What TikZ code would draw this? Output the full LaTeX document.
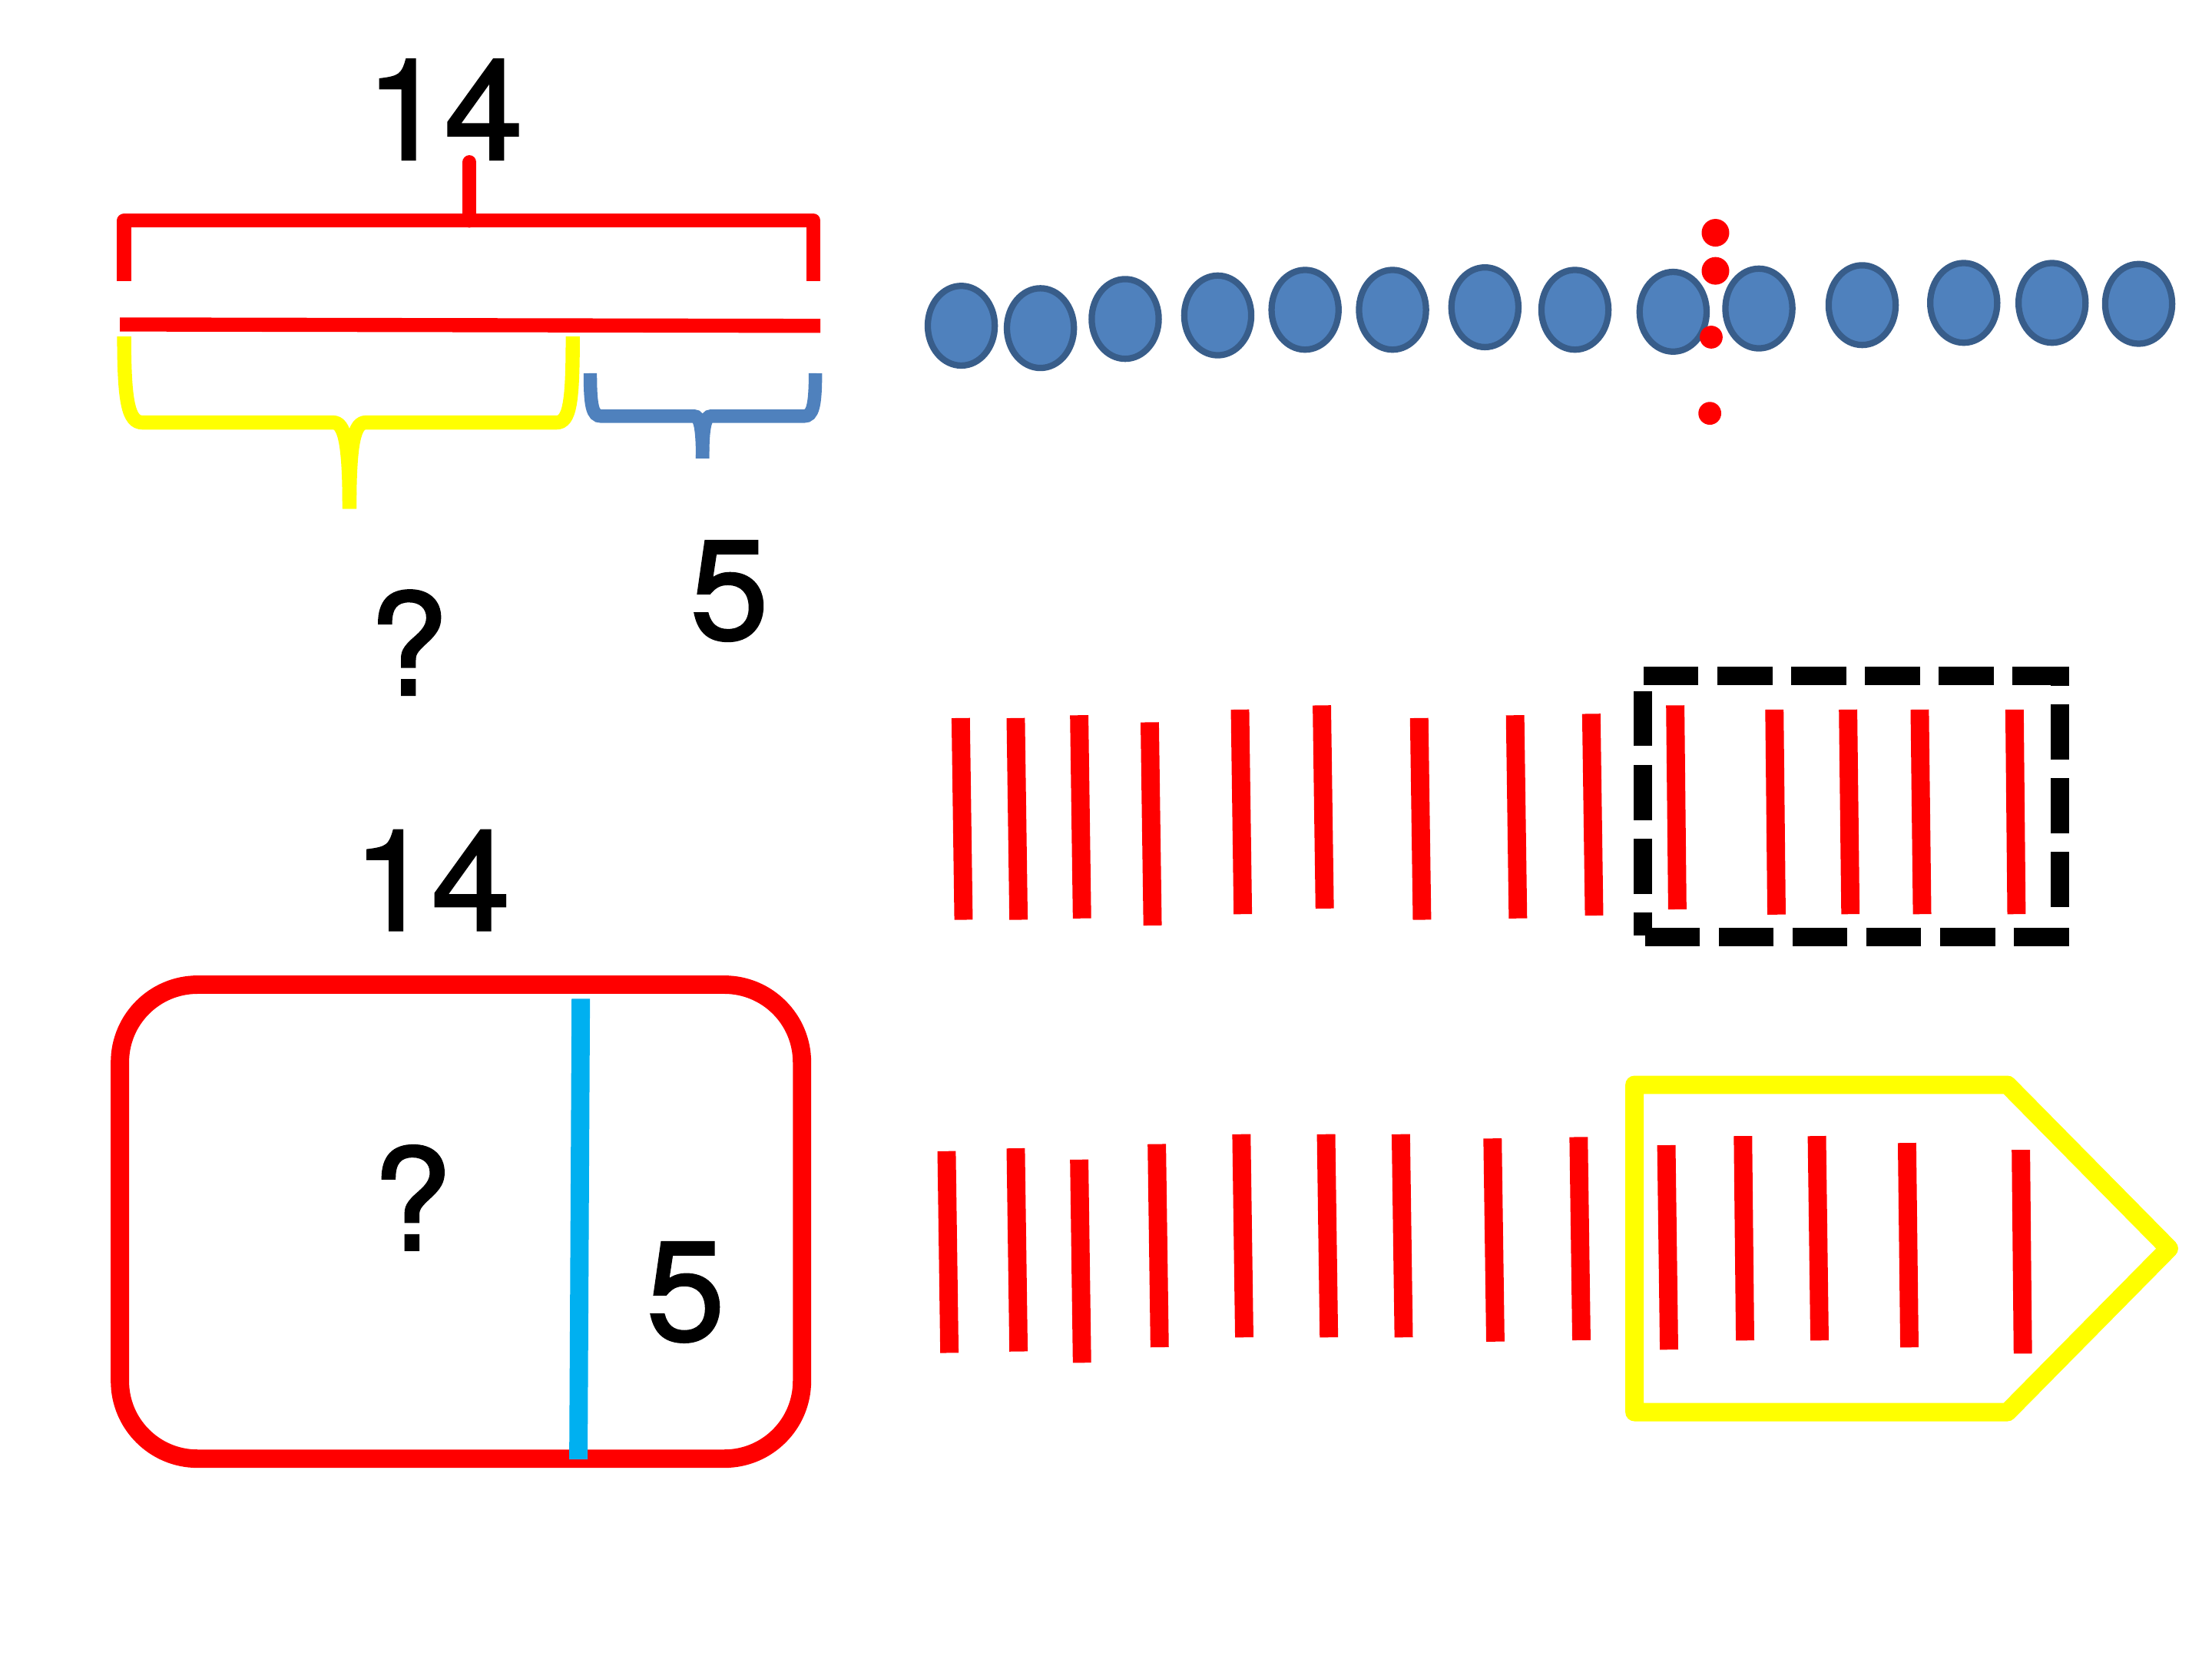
\documentclass[tikz,border=0pt]{standalone}
\usepackage{fontspec}
\setmainfont{TeX Gyre Heros}
\newfontfamily\numfont[FakeBold=1.6]{TeX Gyre Heros}
\usepackage{tikz}
\usetikzlibrary{positioning}
\definecolor{barred}{HTML}{FF0000}
\definecolor{braceyellow}{HTML}{FFFF00}
\definecolor{braceblue}{HTML}{4F81BD}
\definecolor{beadblue}{HTML}{4F81BD}
\definecolor{beadedge}{HTML}{385D8A}
\definecolor{splitcyan}{HTML}{00B0F0}

\begin{document}
\begin{tikzpicture}[x=0.5pt,y=-0.5pt,
  numlabel/.style={inner sep=0pt,font=\numfont\fontsize{50}{60}\selectfont},
  redbar/.style={draw=barred,line width=5pt},
  tallyline/.style={draw=barred,line width=6.5pt},
  bead/.style={draw=beadedge,fill=beadblue,line width=2.25pt},
  boxdash/.style={draw=black,line width=6.5pt,dash pattern=on 19.5pt off 6.65pt}]
\useasboundingbox (0,0) rectangle (1568,1176);

% bar with braces (top left)
\node[numlabel] (total) at (315,77.6) {14};
\draw[redbar,line join=round] (88,199.3) -- (88,156.4) -- (576.6,156.4) -- (576.6,199.3);
\draw[redbar,line cap=round] (332.8,156.4) -- (332.8,115);
\draw[redbar] (85,230) -- (581.5,231);
\draw[draw=braceyellow,line width=5pt] (88,238.5) .. controls (88,285) and (91,299.5) .. (101,299.5)
  -- (236,299.5) .. controls (244,299.5) and (247.7,312) .. (247.7,360.6);
\draw[draw=braceyellow,line width=5pt] (247.7,360.6) .. controls (247.7,312) and (251.4,299.5) .. (259.4,299.5)
  -- (394.4,299.5) .. controls (404,299.5) and (406,285) .. (406,238.5);
\draw[draw=braceblue,line width=4.75pt] (418.4,264.6) .. controls (418.4,288) and (420,295) .. (426,295)
  -- (492,295) .. controls (496,295) and (498,302) .. (498,325);
\draw[draw=braceblue,line width=4.75pt] (498,325) .. controls (498,302) and (500,295) .. (504,295)
  -- (570,295) .. controls (576,295) and (578,288) .. (578,264.6);
\node[numlabel] (unknown) at (289.5,455.5) {?};
\node[numlabel] (part) at (517,419) {5};

% row of beads split by dots
\foreach \bx/\by in {681.4/230.9,737.5/232.6,797.6/226.1,863.2/223.6,925.1/219.6,987.1/219.6,1052.6/217.8,
  1116.4/219.6,1186/221,1246.8/218.7,1320/216.3,1392/214.7,1454.6/214.7,1516/215.4}
  \draw[bead] (\bx,\by) ellipse [x radius=23.75,y radius=28.25];
\foreach \dx/\dy/\dr in {1216/165/9.8,1216/192/9.8,1213/239/8.1,1212/293/8.1}
  \fill[barred] (\dx,\dy) circle [radius=\dr];

% tally marks with dashed group
\foreach \xa/\ya/\xb/\yb in {681/509/683/652,720/509/722/652,765/507/767/651,815/512/817/656,879/503/881/648,
  937/500/939/644,1006/509/1008/652,1074/507/1076/651,1128/506/1130/649,1187.5/500/1189/644.6,
  1257.8/503/1259.3/648.3,1310/503/1311.7/648,1360.8/503/1362.5/648,1428/503/1429.4/648}
  \draw[tallyline] (\xa,\ya) -- (\xb,\yb);
\draw[boxdash] (1165,479) -- (1466.5,479);
\draw[boxdash,dash phase=12.75pt] (1460,472.5) -- (1460,650);
\draw[boxdash] (1466.5,664) -- (1164.5,664);
\draw[boxdash,dash phase=11.4pt] (1164.5,663) -- (1164.5,479);

% tally marks with arrow group
\foreach \xa/\ya/\xb/\yb in {671/816/673/959,720/814/722/958,765/822/767/966,820/811/822/955,880/804/882/948,
  940/804/942/948,993/804/995/948,1058/807/1060/951,1119/806/1121/950,1181.2/811.8/1183.1/956.7,
  1235.5/805.3/1237/950.2,1287.9/805.3/1289.8/950.2,1351.8/810.2/1353.5/955.1,1432.5/815.1/1433.9/959.5}
  \draw[tallyline] (\xa,\ya) -- (\xb,\yb);
\draw[draw=braceyellow,line width=6.5pt,line join=round] (1158.6,769) -- (1423,769) -- (1537.5,885)
  -- (1423,1001) -- (1158.6,1001) -- cycle;

% part-whole box (bottom left)
\node[numlabel] (whole) at (306,624) {14};
\draw[draw=barred,line width=6.5pt,rounded corners=27.5pt] (85,698) rectangle (568.5,1034);
\draw[draw=splitcyan,line width=6.5pt] (411.7,708) -- (410,1034.5);
\node[numlabel] (missing) at (292,849) {?};
\node[numlabel] (given) at (486,916) {5};
\end{tikzpicture}
\end{document}
